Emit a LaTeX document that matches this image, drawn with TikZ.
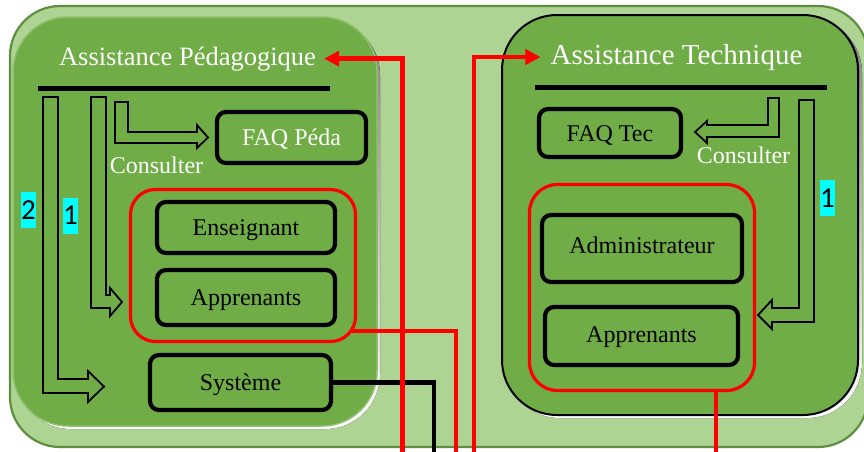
\documentclass[tikz,border=0pt]{standalone}
\usepackage{fontspec}
\setmainfont{Liberation Serif}
\newfontfamily\digitfont{Carlito}
\usetikzlibrary{arrows.meta}

\definecolor{leaf}{HTML}{70AD47}
\definecolor{pale}{HTML}{AED494}
\definecolor{rim}{HTML}{5E8F3F}
\definecolor{shade}{HTML}{4B5C42}
\definecolor{bevel}{HTML}{8EC06C}
\definecolor{tagfill}{HTML}{00FFFF}
\definecolor{wire}{HTML}{FF0000}

\begin{document}
\begin{tikzpicture}[x=1pt,y=-1pt,
  card/.style={draw=black, line width=4.2pt, rounded corners=9pt, fill=leaf,
    inner sep=0pt, font=\fontsize{24}{28}\selectfont, text height=16pt, text depth=0pt},
  group/.style={draw=wire, line width=3.2pt, rounded corners=#1, inner sep=0pt},
  title/.style={text=white, inner sep=0pt, anchor=base},
  note/.style={text=white, inner sep=0pt, font=\fontsize{24}{28}\selectfont},
  tag/.style={fill=tagfill, inner sep=0pt, minimum width=15pt, minimum height=36pt,
    font=\digitfont\fontsize{29}{34}\selectfont},
  bent/.style={draw=black, fill=leaf, line width=1.8pt, line join=miter},
  link/.style={draw=wire, line width=4.8pt},
  blackwire/.style={draw=black, line width=4.8pt},
  pointer/.style={-{Triangle[length=15pt,width=15pt]}}
]
\fill[white] (0,0) rectangle (864,451);
\useasboundingbox (0,0) rectangle (864,451);

% outer panel
\draw[fill=pale, draw=rim, line width=2.2pt, rounded corners=50pt] (10,6) rectangle (868,447);

% left panel with its shadow
\fill[shade, rounded corners=55pt] (16,20) rectangle (380,429);
\draw[fill=leaf, draw=bevel, line width=1.5pt, rounded corners=55pt] (13,17) rectangle (377,426);

% right panel with its shadow
\fill[shade, rounded corners=55pt] (505,18) rectangle (862,418);
\draw[fill=leaf, draw=black, line width=2pt, rounded corners=55pt] (502,15) rectangle (858,415);

% titles and rules
\node[title, font=\fontsize{26.5}{30}\selectfont] (tp) at (187.5,65) {Assistance Pédagogique};
\node[title, font=\fontsize{29}{33}\selectfont] (tt) at (676.5,64) {Assistance Technique};
\draw[line width=5pt] (38,88) -- (330,88);
\draw[line width=5pt] (535,87.5) -- (827,87.5);

% left side
\node[card, text=white, minimum width=149pt, minimum height=51pt] (faqp) at (291.5,137.5) {FAQ Péda};
\node[note] (cl) at (156.5,165) {Consulter};
\node[group=25pt, minimum width=225pt, minimum height=152pt] (gl) at (243,265.5) {};
\node[card, minimum width=178pt, minimum height=51pt] (ens) at (246,227.5) {Enseignant};
\node[card, minimum width=178pt, minimum height=55pt] (appl) at (246,297.5) {Apprenants};
\node[card, minimum width=181pt, minimum height=55pt] (sys) at (240.5,382.5) {Système};

\draw[bent] (115,102) -- (128,102) -- (128,132) -- (197,132) -- (197,125) -- (208,137.5)
  -- (197,148) -- (197,143) -- (115,143) -- cycle;
\draw[bent] (91,97) -- (106,97) -- (106,295) -- (110,295) -- (110,288) -- (122,302)
  -- (110,316) -- (110,308) -- (91,308) -- cycle;
\draw[bent] (43,97) -- (58,97) -- (58,379) -- (88,379) -- (88,371) -- (104,386.5)
  -- (88,402) -- (88,393) -- (43,393) -- cycle;
\node[tag] (n2) at (28.5,210) {2};
\node[tag] (n1) at (70.5,215.5) {1};

% right side
\node[card, minimum width=142pt, minimum height=48pt] (faqt) at (610,133) {FAQ Tec};
\node[note] (cr) at (743.5,155) {Consulter};
\node[group=28pt, minimum width=225pt, minimum height=206pt] (gr) at (642,287.5) {};
\node[card, minimum width=200pt, minimum height=67pt, text depth=7pt] (adm) at (642,248.5) {Administrateur};
\node[card, minimum width=193pt, minimum height=58pt, text depth=4pt] (appr) at (641.5,336) {Apprenants};

\draw[bent] (768,98) -- (779,98) -- (779,137) -- (707,137) -- (707,143) -- (695,132)
  -- (707,121) -- (707,125) -- (768,125) -- cycle;
\draw[bent] (799,100) -- (814,100) -- (814,322) -- (772,322) -- (772,329) -- (758,315)
  -- (772,300) -- (772,308) -- (799,308) -- cycle;
\node[tag] (n1r) at (827.5,198) {1};

% wires leaving through the bottom edge
\coordinate (endA) at (402.5,460);
\coordinate (endB) at (474,460);
\coordinate (endC) at (456,460);
\coordinate (endD) at (434,460);
\coordinate (endE) at (716,460);

\draw[blackwire] (sys.east) -| (endD);
\draw[link] ([xshift=-5pt,yshift=-65.5pt]gl.east) -| (endC);
\draw[link] (endE |- gr.south) -- (endE);
\draw[link, pointer, shorten >=8pt] (endA) |- (tp.east);
\draw[link, pointer, shorten >=10pt] (endB) |- (tt.west);
\end{tikzpicture}
\end{document}
